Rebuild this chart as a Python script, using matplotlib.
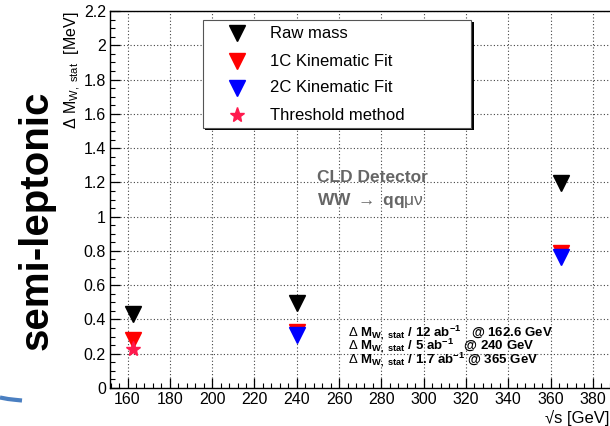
import matplotlib
matplotlib.use("Agg")
import matplotlib.pyplot as plt
from matplotlib.patches import Rectangle
from matplotlib.lines import Line2D
from matplotlib.ticker import MultipleLocator

plt.rcParams['font.family'] = ['Liberation Sans', 'DejaVu Sans']
plt.rcParams['mathtext.fontset'] = 'custom'
plt.rcParams['mathtext.rm'] = 'Liberation Sans'
plt.rcParams['mathtext.it'] = 'Liberation Sans:italic'
plt.rcParams['mathtext.bf'] = 'Liberation Sans:bold'

# Centre-of-mass energies [GeV]
sqrt_s = [162.6, 240.0, 365.0]
# Statistical uncertainty on M_W [MeV]
raw_mass = [0.43, 0.495, 1.195]
fit_1c = [0.28, 0.327, 0.787]
fit_2c_energies = [240.0, 365.0]
fit_2c = [0.31, 0.762]
threshold_energy = [162.6]
threshold = [0.228]

legend_labels = ["Raw mass", "1C Kinematic Fit", "2C Kinematic Fit", "Threshold method"]
lumi_lines = [
    r"$\Delta$ M$_{\mathbf{W,\ stat}}$ / 12 ab$^{\mathbf{-1}}$   @ 162.6 GeV",
    r"$\Delta$ M$_{\mathbf{W,\ stat}}$ / 5 ab$^{\mathbf{-1}}$   @ 240 GeV",
    r"$\Delta$ M$_{\mathbf{W,\ stat}}$ / 1.7 ab$^{\mathbf{-1}}$ @ 365 GeV",
]

W, H = 610, 426
fig = plt.figure(figsize=(W / 100, H / 100), dpi=100)


def fx(x):
    return x / W


def fy(y):
    return 1 - y / H


# axes frame in pixels: left 110, top 11, bottom 388; right edge runs past the canvas
xlo, xhi = 151.7, 392.0
px_per_gev = 42.3 / 20
ax_w = (xhi - xlo) * px_per_gev
ax = fig.add_axes([fx(110), fy(388), ax_w / W, (388 - 11) / H])
ax.set_xlim(xlo, xhi)
ax.set_ylim(0, 2.2)

ax.xaxis.set_major_locator(MultipleLocator(20))
ax.xaxis.set_minor_locator(MultipleLocator(4))
ax.yaxis.set_major_locator(MultipleLocator(0.2))
ax.yaxis.set_minor_locator(MultipleLocator(0.05))
ax.tick_params(which='both', direction='in', top=False, right=False, labelsize=11.5, pad=3)
ax.tick_params(which='major', length=7, width=0.9)
ax.tick_params(which='minor', length=3.5, width=0.8)
ax.set_yticks([0, 0.2, 0.4, 0.6, 0.8, 1.0, 1.2, 1.4, 1.6, 1.8, 2.0, 2.2])
ax.set_yticklabels(["0", "0.2", "0.4", "0.6", "0.8", "1", "1.2", "1.4", "1.6", "1.8", "2", "2.2"])
ax.grid(True, which='major', linestyle=(0, (1, 2)), color='#444444', linewidth=0.8)
for s in ax.spines.values():
    s.set_linewidth(1.0)

ms = 11
ax.plot(sqrt_s, raw_mass, linestyle='none', marker='v', color='black', markersize=ms, zorder=5)
ax.plot(sqrt_s, fit_1c, linestyle='none', marker='v', color='#ff0000', markersize=ms, zorder=5)
ax.plot(fit_2c_energies, fit_2c, linestyle='none', marker='v', color='#0000ff', markersize=ms, zorder=6)
ax.plot(threshold_energy, threshold, linestyle='none', marker='*', color='#ff1a4d', markersize=11, zorder=7)

# legend box with ROOT-style drop shadow
fig.patches.append(Rectangle((fx(205), fy(130.5)), (473.5 - 205) / W, (130.5 - 22) / H,
                             transform=fig.transFigure, facecolor='black', edgecolor='none', zorder=3))
fig.patches.append(Rectangle((fx(203), fy(128)), (471 - 203) / W, (128 - 20) / H,
                             transform=fig.transFigure, facecolor='white', edgecolor='#555555',
                             linewidth=0.8, zorder=4))
legend_styles = [('v', 'black', 11), ('v', '#ff0000', 11), ('v', '#0000ff', 11), ('*', '#ff1a4d', 11)]
rows_y = [33, 61, 88, 115]
for (mk, col, msz), label, ry in zip(legend_styles, legend_labels, rows_y):
    fig.add_artist(Line2D([fx(237)], [fy(ry)], marker=mk, color=col, markersize=msz,
                          linestyle='none', transform=fig.transFigure, zorder=5))
    fig.text(fx(270), fy(ry), label, fontsize=12, va='center', ha='left', zorder=5)

# detector / channel label
fig.text(fx(317), fy(177), "CLD Detector", fontsize=12.5,
         fontweight='bold', color='#666666', va='center', ha='left')
fig.text(fx(317), fy(200), r"WW $\rightarrow$ qq$\mathrm{\mu\nu}$", fontsize=12.5,
         fontweight='bold', color='#666666', va='center', ha='left')

# luminosity scaling notes
fig.text(fx(348), fy(346), "\n".join(lumi_lines), fontsize=9.5, fontweight='bold',
         va='center', ha='left', linespacing=0.62, zorder=6)

# axis titles
fig.text(fx(73), fy(12), r"$\Delta$ M$_{\mathrm{W,\ stat}}$  [MeV]", rotation=90,
         fontsize=11.5, va='top', ha='center')
fig.text(fx(609), fy(418), "√s [GeV]", fontsize=12, va='center', ha='right')

# channel label on the left margin
fig.text(fx(37), fy(220), "semi-leptonic", rotation=90, fontsize=29, fontweight='bold',
         va='center', ha='center')

# decorative blue stroke in the bottom-left corner
fig.add_artist(Line2D([fx(0), fx(8), fx(15), fx(22)], [fy(397.5), fy(399), fy(399.8), fy(400.5)],
                      color='#4a7fc1', linewidth=3, transform=fig.transFigure, solid_capstyle='butt'))

fig.savefig("out.png", dpi=100)
